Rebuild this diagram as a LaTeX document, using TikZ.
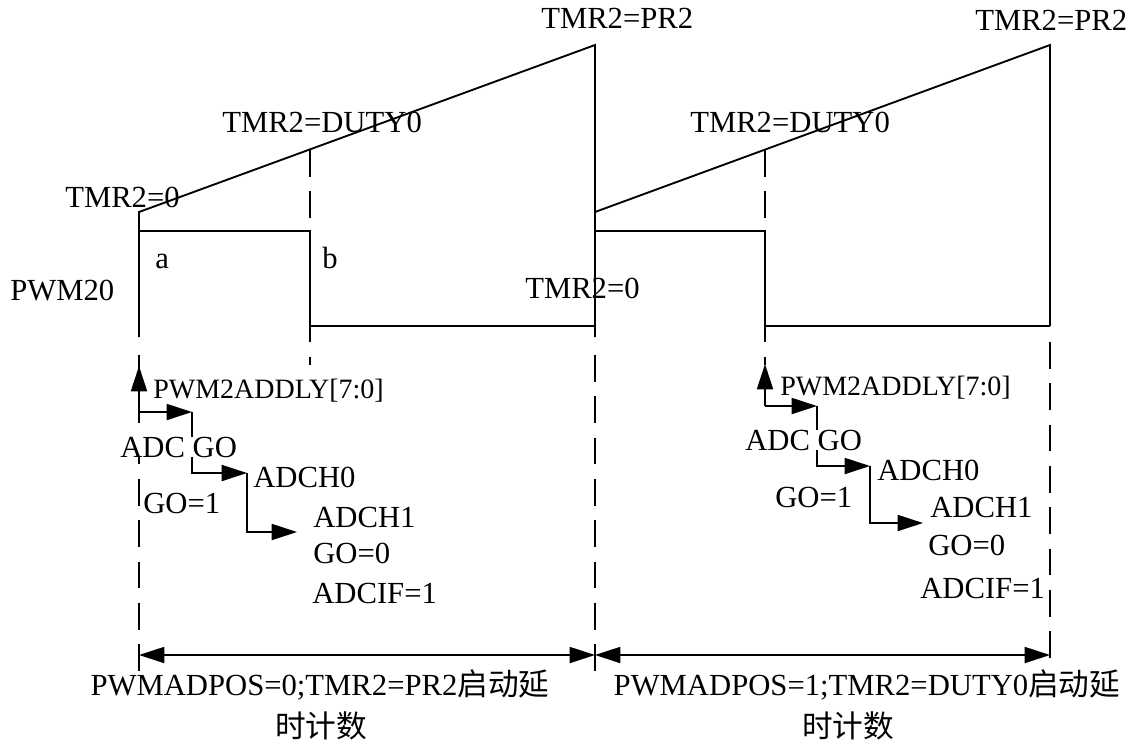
\documentclass[tikz,border=0pt]{standalone}
\usepackage{fontspec}
\setmainfont{Liberation Serif}
\newfontfamily\cjk{Noto Sans CJK SC}
\usetikzlibrary{arrows.meta}

\begin{document}
\begin{tikzpicture}[
    x=0.75pt, y=-0.75pt,
    wave/.style={line width=1.4pt},
    guide/.style={line width=1.2pt, dash pattern=on 20pt off 11pt},
    stepline/.style={line width=1.4pt, -{Triangle[length=19pt,width=12pt]}},
    span/.style={line width=1.4pt, {Triangle[length=19pt,width=12pt]}-{Triangle[length=19pt,width=12pt]}},
    lbl/.style={font=\fontsize{23}{27}\selectfont, inner sep=0pt, anchor=base west},
    reg/.style={lbl, font=\fontsize{21}{25}\selectfont},
    dimlbl/.style={font=\fontsize{23}{27}\selectfont, inner sep=0pt, anchor=base}
]
\useasboundingbox (0,0) rectangle (1139,744);

% Timer ramps
\draw[wave] (139,337) -- (139,212) -- (595,45) -- (595,337);
\draw[wave] (595,212) -- (1050,45) -- (1050,326);

% PWM20 output
\draw[wave] (139,231) -- (310,231) -- (310,326) -- (595,326);
\draw[wave] (595,231) -- (765,231) -- (765,326) -- (1050,326);

% Guides
\draw[guide] (139,355) -- (139,672);
\draw[guide] (595,355) -- (595,672);
\draw[guide] (1050,342) -- (1050,672);
\draw[guide] (310,150) -- (310,365);
\draw[guide] (765,150) -- (765,365);

% Delay spans
\coordinate (s0) at (139,655);
\coordinate (s1) at (595,655);
\coordinate (s2) at (1050,655);
\draw[span] (s0) -- (s1);
\draw[span] (s1) -- (s2);

% ADC sequence, first period
\coordinate (trgA) at (139,412);
\coordinate (goA1) at (192,412);
\coordinate (goA2) at (247,473);
\draw[stepline] (trgA) -- (139,366);
\draw[stepline] (trgA) -- (goA1);
\draw[stepline] (goA1) |- (goA2);
\draw[stepline] (goA2) |- (297,532);

% ADC sequence, second period
\coordinate (trgB) at (765,406);
\coordinate (goB1) at (817,406);
\coordinate (goB2) at (870,466);
\draw[stepline] (trgB) -- (765,364);
\draw[stepline] (trgB) -- (goB1);
\draw[stepline] (goB1) |- (goB2);
\draw[stepline] (goB2) |- (923,523);

% Timer labels
\node[lbl] (tmrA0) at (65,207) {TMR2=0};
\node[lbl] (tmrB0) at (525,298) {TMR2=0};
\node[lbl] (prA) at (541,28) {TMR2=PR2};
\node[lbl] (prB) at (975,30) {TMR2=PR2};
\node[lbl] (dutyA) at (222,132) {TMR2=DUTY0};
\node[lbl] (dutyB) at (690,132) {TMR2=DUTY0};
\node[lbl] (pwm) at (10,300) {PWM20};
\node[lbl] (ea) at (155,268) {a};
\node[lbl] (eb) at (322,268) {b};

% ADC labels
\node[reg] (dlyA) at (153,398) {PWM2ADDLY[7:0]};
\node[lbl, fill=white] (adcA) at (120,457) {ADC GO};
\node[lbl] (ch0A) at (253,487) {ADCH0};
\node[lbl] (go1A) at (143,513) {GO=1};
\node[lbl] (ch1A) at (313,527) {ADCH1};
\node[lbl] (go0A) at (313,563) {GO=0};
\node[lbl] (ifA) at (312,603) {ADCIF=1};

\node[reg] (dlyB) at (780,395) {PWM2ADDLY[7:0]};
\node[lbl, fill=white] (adcB) at (745,450) {ADC GO};
\node[lbl] (ch0B) at (877,480) {ADCH0};
\node[lbl] (go1B) at (775,507) {GO=1};
\node[lbl] (ch1B) at (930,517) {ADCH1};
\node[lbl] (go0B) at (928,555) {GO=0};
\node[lbl] (ifB) at (920,598) {ADCIF=1};

% Span labels
\node[dimlbl] (posA) at (320,695) {PWMADPOS=0;TMR2=PR2{\cjk 启动延}};
\node[dimlbl] (posA2) at (321,737) {{\cjk 时计数}};
\node[dimlbl] (posB) at (867,695) {PWMADPOS=1;TMR2=DUTY0{\cjk 启动延}};
\node[dimlbl] (posB2) at (848,737) {{\cjk 时计数}};

\end{tikzpicture}
\end{document}
